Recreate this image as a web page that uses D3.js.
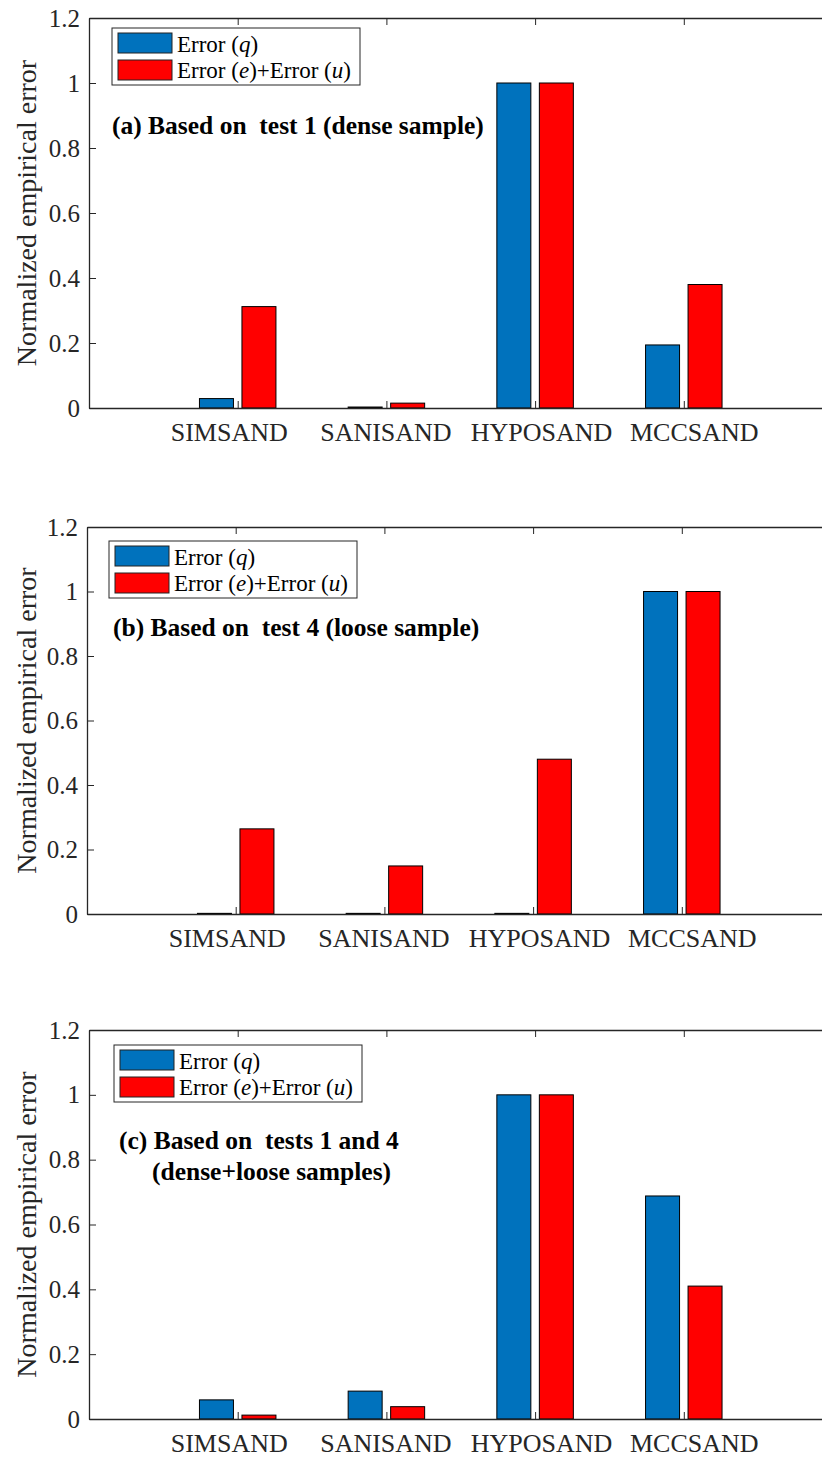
<!DOCTYPE html>
<html>
<head>
<meta charset="utf-8">
<script src="https://cdn.jsdelivr.net/npm/d3@7"></script>
<style>
body { margin: 0; background: #fff; }
text { font-family: "Liberation Serif", "Times New Roman", serif; }
</style>
</head>
<body>
<div id="chart"></div>
<script>
// data
var models = ["SIMSAND", "SANISAND", "HYPOSAND", "MCCSAND"],
    seriesNames = ["q", "e"],   // Error (q) / Error (e)+Error (u)
    yTicks = [0, 0.2, 0.4, 0.6, 0.8, 1, 1.2],
    errQ_a = [0.029, 0.003, 1, 0.194],
    errEU_a = [0.312, 0.015, 1, 0.380],
    errQ_b = [0.002, 0.002, 0.002, 1],
    errEU_b = [0.264, 0.149, 0.480, 1],
    errQ_c = [0.059, 0.086, 1, 0.688],
    errEU_c = [0.012, 0.038, 1, 0.410],
    titleA = ["(a) Based on  test 1 (dense sample)"],
    titleB = ["(b) Based on  test 4 (loose sample)"],
    titleC = ["(c) Based on  tests 1 and 4", "(dense+loose samples)"];

var colors = { q: "#0072BD", e: "#FF0000" },
    axisColor = "#262626",
    catStep = 148.7,
    tickLen = 7,
    labelShift = [-9, -1, 6, 10];   // x labels sit a bit spread out in the original

var panels = [
    { q: errQ_a, eu: errEU_a, title: titleA, left: 89, top: 18, bottom: 408,
      legX: 112, legY: 28, titleX: [112], titleY: 134 },
    { q: errQ_b, eu: errEU_b, title: titleB, left: 87, top: 527, bottom: 914,
      legX: 109, legY: 541, titleX: [113], titleY: 636 },
    { q: errQ_c, eu: errEU_c, title: titleC, left: 89, top: 1030, bottom: 1419,
      legX: 114, legY: 1045, titleX: [119, 152], titleY: 1149 }
];

var svg = d3.select("#chart").append("svg")
    .attr("width", 822)
    .attr("height", 1458);

panels.forEach(function (p) {
    var width = catStep * 5,
        height = p.bottom - p.top;

    var x = d3.scaleLinear().domain([0, 5]).range([0, width]);
    var y = d3.scaleLinear().domain([0, 1.2]).range([height, 0]);

    var g = svg.append("g")
        .attr("transform", "translate(" + p.left + "," + p.top + ")");

    // bars (matlab grouped bar geometry: offset +-0.143, width 0.2286)
    var rows = models.map(function (m, i) {
        return { i: i + 1, q: p.q[i], e: p.eu[i] };
    });
    var barW = 0.2286, off = { q: -0.1429, e: 0.1429 };

    seriesNames.forEach(function (s) {
        g.selectAll(".bar-" + s)
            .data(rows)
            .enter().append("rect")
            .attr("class", "bar-" + s)
            .attr("x", function (d) { return x(d.i + off[s] - barW / 2); })
            .attr("width", x(barW) - x(0))
            .attr("y", function (d) { return y(d[s]); })
            .attr("height", function (d) { return y(0) - y(d[s]); })
            .style("fill", colors[s])
            .style("stroke", "#000")
            .style("stroke-width", 1);
    });

    // axes
    var yAxis = d3.axisLeft(y).tickValues(yTicks)
        .tickFormat(function (d) { return d3.format("")(d); })
        .tickSizeInner(-tickLen).tickSizeOuter(0).tickPadding(9);
    var yAxisR = d3.axisRight(y).tickValues(yTicks)
        .tickFormat("").tickSizeInner(-tickLen).tickSizeOuter(0);
    var xAxis = d3.axisBottom(x).tickValues([1, 2, 3, 4])
        .tickFormat(function (d) { return models[d - 1]; })
        .tickSizeInner(-tickLen).tickSizeOuter(0).tickPadding(15);
    var xAxisT = d3.axisTop(x).tickValues([1, 2, 3, 4])
        .tickFormat("").tickSizeInner(-tickLen).tickSizeOuter(0);

    var gy = g.append("g").call(yAxis);
    g.append("g").attr("transform", "translate(" + width + ",0)").call(yAxisR);
    var gx = g.append("g").attr("transform", "translate(0," + height + ")").call(xAxis);
    g.append("g").call(xAxisT);

    g.selectAll(".domain").style("stroke", axisColor).style("stroke-width", 1.3);
    g.selectAll(".tick line").style("stroke", axisColor).style("stroke-width", 1);

    gy.selectAll("text")
        .style("font-family", "Liberation Serif, serif")
        .style("font-size", "25px")
        .style("fill", axisColor);
    gx.selectAll("text")
        .attr("dx", function (d) { return labelShift[d - 1]; })
        .style("font-family", "Liberation Serif, serif")
        .style("font-size", "26px")
        .style("fill", axisColor);

    // y label
    svg.append("text")
        .attr("transform", "translate(" + 36 + "," + (p.top + height / 2) + ") rotate(-90)")
        .attr("text-anchor", "middle")
        .style("font-size", "28px")
        .style("fill", axisColor)
        .text("Normalized empirical error");

    // legend
    var leg = svg.append("g").attr("transform", "translate(" + p.legX + "," + p.legY + ")");
    leg.append("rect")
        .attr("width", 248).attr("height", 57)
        .style("fill", "#fff").style("stroke", axisColor).style("stroke-width", 1);
    var items = [
        { s: "q", parts: [["Error (", false], ["q", true], [")", false]] },
        { s: "e", parts: [["Error (", false], ["e", true], [")+Error (", false], ["u", true], [")", false]] }
    ];
    items.forEach(function (it, k) {
        leg.append("rect")
            .attr("x", 6).attr("y", 5 + k * 27)
            .attr("width", 54).attr("height", 20)
            .style("fill", colors[it.s])
            .style("stroke", "#222").style("stroke-width", 1);
        var t = leg.append("text")
            .attr("x", 65).attr("y", 24 + k * 26)
            .style("font-size", "23px")
            .style("fill", "#000");
        it.parts.forEach(function (pt) {
            t.append("tspan").text(pt[0]).style("font-style", pt[1] ? "italic" : "normal");
        });
    });

    // title
    p.title.forEach(function (line, k) {
        svg.append("text")
            .attr("x", p.titleX[k])
            .attr("y", p.titleY + k * 31)
            .style("font-size", "25.5px")
            .style("font-weight", "bold")
            .style("white-space", "pre")
            .attr("xml:space", "preserve")
            .style("fill", "#000")
            .text(line);
    });
});
</script>
</body>
</html>
